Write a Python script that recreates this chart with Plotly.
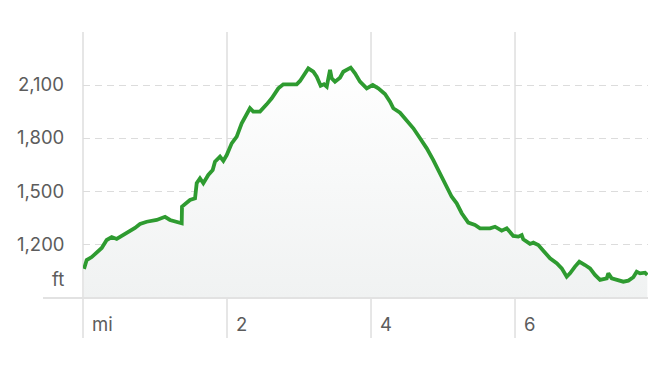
import plotly.graph_objects as go

# ---- data ----
miles = [0.014, 0.051, 0.121, 0.190, 0.260, 0.329, 0.399, 0.468, 0.560, 0.653,
         0.722, 0.792, 0.885, 1.024, 1.139, 1.208, 1.324, 1.371, 1.375, 1.440,
         1.486, 1.556, 1.579, 1.625, 1.671, 1.740, 1.801, 1.833, 1.903, 1.949,
         1.996, 2.065, 2.135, 2.204, 2.250, 2.319, 2.365, 2.458, 2.551, 2.621,
         2.713, 2.782, 2.968, 3.014, 3.129, 3.199, 3.246, 3.301, 3.347, 3.385,
         3.431, 3.454, 3.500, 3.569, 3.615, 3.718, 3.778, 3.847, 3.940, 4.024,
         4.101, 4.194, 4.264, 4.310, 4.403, 4.496, 4.588, 4.681, 4.774, 4.865,
         4.958, 5.051, 5.121, 5.190, 5.260, 5.351, 5.444, 5.514, 5.653, 5.722,
         5.815, 5.885, 5.931, 5.976, 6.046, 6.093, 6.115, 6.208, 6.254, 6.324,
         6.393, 6.486, 6.579, 6.649, 6.718, 6.764, 6.833, 6.893, 6.972, 7.042,
         7.111, 7.181, 7.274, 7.296, 7.343, 7.412, 7.504, 7.574, 7.643, 7.690,
         7.736, 7.806, 7.838]
elevation_ft = [1064, 1114, 1131, 1155, 1182, 1227, 1244, 1233, 1255, 1280,
                1295, 1317, 1330, 1340, 1358, 1340, 1325, 1321, 1415, 1434,
                1453, 1462, 1547, 1575, 1547, 1594, 1622, 1669, 1697, 1673,
                1706, 1772, 1810, 1885, 1922, 1970, 1951, 1951, 1992, 2026,
                2082, 2105, 2105, 2124, 2195, 2176, 2148, 2097, 2105, 2092,
                2186, 2139, 2120, 2142, 2176, 2199, 2167, 2120, 2082, 2101,
                2082, 2050, 2007, 1970, 1945, 1904, 1857, 1801, 1744, 1678,
                1603, 1528, 1471, 1434, 1378, 1325, 1312, 1293, 1293, 1302,
                1280, 1293, 1274, 1250, 1246, 1255, 1231, 1205, 1212, 1199,
                1167, 1124, 1096, 1067, 1020, 1039, 1077, 1105, 1086, 1067,
                1030, 1002, 1011, 1039, 1011, 1002, 992, 998, 1017, 1048,
                1039, 1043, 1030]

y_ticks = [1200, 1500, 1800, 2100]
y_tick_labels = ["1,200", "1,500", "1,800", "2,100"]
y_unit = "ft"
x_ticks = [0, 2, 4, 6]
x_tick_labels = ["mi", "2", "4", "6"]

X_RANGE = [0, 7.847]
Y_RANGE = [900, 2400]

W, H = 672, 368
M_L, M_R, M_T, M_B = 83, 24, 32, 70
plot_w = W - M_L - M_R
plot_h = H - M_T - M_B

LABEL_FONT = dict(family="Inter, Roboto, Arial, sans-serif", size=18.5, color="#5c5c5c")

fig = go.Figure()
fig.add_trace(go.Scatter(
    x=miles, y=elevation_ft, mode="lines",
    line=dict(color="#2e9b30", width=3.8),
    fill="tozeroy",
    fillgradient=dict(type="vertical",
                      colorscale=[[0, "rgb(240,242,242)"], [1, "rgb(255,255,255)"]],
                      start=900, stop=2250),
    hoverinfo="skip", showlegend=False,
))

shapes = []
# vertical grid lines extending below the plot through the tick-label band
for v in x_ticks:
    xp = (v - X_RANGE[0]) / (X_RANGE[1] - X_RANGE[0])
    shapes.append(dict(type="line", xref="paper", yref="paper",
                       x0=xp, x1=xp, y0=-40 / plot_h, y1=1,
                       line=dict(color="#d6d6d6", width=1.2), layer="below"))
# bottom baseline extending to the left
shapes.append(dict(type="line", xref="paper", yref="paper",
                   x0=-40 / plot_w, x1=1, y0=0, y1=0,
                   line=dict(color="#e2e2e2", width=2), layer="above"))

annotations = []
for v, t in zip(y_ticks, y_tick_labels):
    annotations.append(dict(x=0, xref="paper", y=v, yref="y", text=t,
                            showarrow=False, xanchor="right", yanchor="middle",
                            xshift=-17, yshift=1, font=LABEL_FONT))
annotations.append(dict(x=0, xref="paper", y=0, yref="paper", text=y_unit,
                        showarrow=False, xanchor="right", yanchor="bottom",
                        xshift=-17, yshift=6, font=LABEL_FONT))
for v, t in zip(x_ticks, x_tick_labels):
    annotations.append(dict(x=v, xref="x", y=0, yref="paper", text=t,
                            showarrow=False, xanchor="left", yanchor="middle",
                            xshift=7, yshift=-26, font=LABEL_FONT))

fig.update_layout(
    width=W, height=H,
    margin=dict(l=M_L, r=M_R, t=M_T, b=M_B, pad=0),
    paper_bgcolor="white", plot_bgcolor="white",
    xaxis=dict(range=X_RANGE, showgrid=False, zeroline=False, showticklabels=False,
               ticks="", showline=False, fixedrange=True),
    yaxis=dict(range=Y_RANGE, tickvals=y_ticks, showgrid=True, gridcolor="#dcdcdc",
               gridwidth=1, griddash="7px,5px", zeroline=False, showticklabels=False,
               ticks="", showline=False, fixedrange=True),
    shapes=shapes, annotations=annotations,
)

fig.write_html("out.html", config={"displayModeBar": False})
